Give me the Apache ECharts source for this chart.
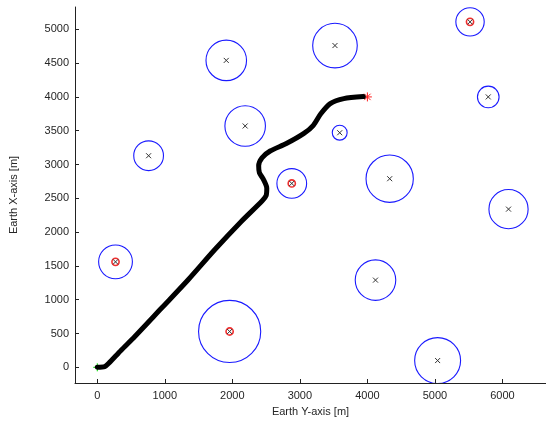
<!DOCTYPE html>
<html>
<head>
<meta charset="utf-8">
<script src="https://cdn.jsdelivr.net/npm/echarts@6/dist/echarts.min.js"></script>
<style>html,body{margin:0;padding:0;background:#fff}#c{width:546px;height:427px}</style>
</head>
<body>
<div id="c"></div>
<script>
// Obstacles: centers (Earth Y, Earth X) and radii [m]
const obsX = [5520, 5790, 3520, 1910, 2190, 3590, 2880, 4330, 760, 270, 1960, 4120, 5040, 6090];
const obsY = [5110, 4000, 4760, 4540, 3570, 3470, 2720, 2790, 3130, 1560, 530, 1290, 100, 2340];
const obsR = [210, 160, 330, 300, 300, 110, 220, 350, 220, 250, 460, 300, 340, 290];
const detected = [1, 0, 0, 0, 0, 0, 1, 0, 0, 1, 1, 0, 0, 0];
// Vehicle trajectory
const pathX = [0, 110, 170, 350, 553, 949, 1343, 1735, 2129, 2440, 2500, 2510, 2460, 2400, 2390, 2440, 2560, 2800, 3060, 3200, 3310, 3450, 3650, 3940];
const pathY = [0, 10, 60, 250, 453, 873, 1291, 1735, 2154, 2460, 2540, 2650, 2780, 2880, 2980, 3100, 3200, 3310, 3460, 3580, 3750, 3900, 3975, 4005];
const startPt = [0, 0];
const goalPt = [4000, 4000];
// Ticks
const xTicks = [0, 1000, 2000, 3000, 4000, 5000, 6000];
const yTicks = [0, 500, 1000, 1500, 2000, 2500, 3000, 3500, 4000, 4500, 5000];

const chart = echarts.init(document.getElementById('c'));
const font = 'Liberation Sans, Arial, sans-serif';
const txt = '#262626';

const circleData = obsX.map((x, i) => [x, obsY[i], obsR[i]]);
const detData = obsX.map((x, i) => [x, obsY[i]]).filter((d, i) => detected[i]);
const centerData = obsX.map((x, i) => [x, obsY[i]]);
const pathData = pathX.map((x, i) => [x, pathY[i]]);

function xMark(c, h, color, w) {
  return [
    {type: 'line', shape: {x1: c[0]-h, y1: c[1]-h, x2: c[0]+h, y2: c[1]+h}, style: {stroke: color, lineWidth: w}},
    {type: 'line', shape: {x1: c[0]-h, y1: c[1]+h, x2: c[0]+h, y2: c[1]-h}, style: {stroke: color, lineWidth: w}}
  ];
}
const plain = v => String(v);

chart.setOption({
  animation: false,
  backgroundColor: '#fff',
  grid: {left: 73, top: 7, right: 0, bottom: 44, containLabel: false},
  xAxis: {
    type: 'value', min: -330, max: 6645,
    name: 'Earth Y-axis [m]', nameLocation: 'middle', nameGap: 23,
    nameTextStyle: {fontFamily: font, fontSize: 11, color: txt},
    axisLine: {show: true, onZero: false, lineStyle: {color: '#222', width: 1}},
    axisTick: {show: true, inside: true, length: 4, customValues: xTicks, lineStyle: {color: '#222'}},
    axisLabel: {customValues: xTicks, formatter: plain, fontFamily: font, fontSize: 11, color: txt, margin: 7},
    splitLine: {show: false}
  },
  yAxis: {
    type: 'value', min: -232, max: 5330,
    name: 'Earth X-axis [m]', nameLocation: 'middle', nameGap: 56, nameRotate: 90,
    nameTextStyle: {fontFamily: font, fontSize: 11, color: txt},
    axisLine: {show: true, onZero: false, lineStyle: {color: '#222', width: 1}},
    axisTick: {show: true, inside: true, length: 4, customValues: yTicks, lineStyle: {color: '#222'}},
    axisLabel: {customValues: yTicks, formatter: plain, fontFamily: font, fontSize: 11, color: txt, margin: 6},
    splitLine: {show: false}
  },
  series: [
    {
      type: 'custom', clip: true, data: circleData,
      renderItem: function (params, api) {
        const c = api.coord([api.value(0), api.value(1)]);
        const s = api.size([api.value(2), api.value(2)]);
        const r = (s[0] + s[1]) / 2;
        return {type: 'circle', shape: {cx: c[0], cy: c[1], r: r}, style: {fill: 'none', stroke: '#1a1aff', lineWidth: 1.1}};
      }
    },
    {
      type: 'line', data: pathData, showSymbol: false, smooth: 0.25,
      lineStyle: {color: '#000', width: 5, cap: 'round', join: 'round'}
    },
    {
      type: 'custom', data: detData,
      renderItem: function (params, api) {
        const c = api.coord([api.value(0), api.value(1)]);
        return {type: 'circle', shape: {cx: c[0], cy: c[1], r: 3.6}, style: {fill: 'none', stroke: '#f03030', lineWidth: 1.6}};
      }
    },
    {
      type: 'custom', data: centerData,
      renderItem: function (params, api) {
        const c = api.coord([api.value(0), api.value(1)]);
        return {type: 'group', children: xMark(c, 2.5, '#333', 1)};
      }
    },
    {
      type: 'custom', data: [startPt],
      renderItem: function (params, api) {
        const c = api.coord([api.value(0), api.value(1)]);
        return {type: 'group', children: [
          {type: 'line', shape: {x1: c[0]-4, y1: c[1], x2: c[0]+4, y2: c[1]}, style: {stroke: '#00dd00', lineWidth: 1}},
          {type: 'line', shape: {x1: c[0], y1: c[1]-4, x2: c[0], y2: c[1]+4}, style: {stroke: '#00dd00', lineWidth: 1}}
        ]};
      }
    },
    {
      type: 'custom', data: [goalPt],
      renderItem: function (params, api) {
        const c = api.coord([api.value(0), api.value(1)]);
        return {type: 'group', children: [
          {type: 'line', shape: {x1: c[0]-4.5, y1: c[1], x2: c[0]+4.5, y2: c[1]}, style: {stroke: '#ff2020', lineWidth: 1}},
          {type: 'line', shape: {x1: c[0], y1: c[1]-4.5, x2: c[0], y2: c[1]+4.5}, style: {stroke: '#ff2020', lineWidth: 1}}
        ].concat(xMark(c, 3.2, '#ff2020', 1))};
      }
    }
  ]
});
</script>
</body>
</html>
